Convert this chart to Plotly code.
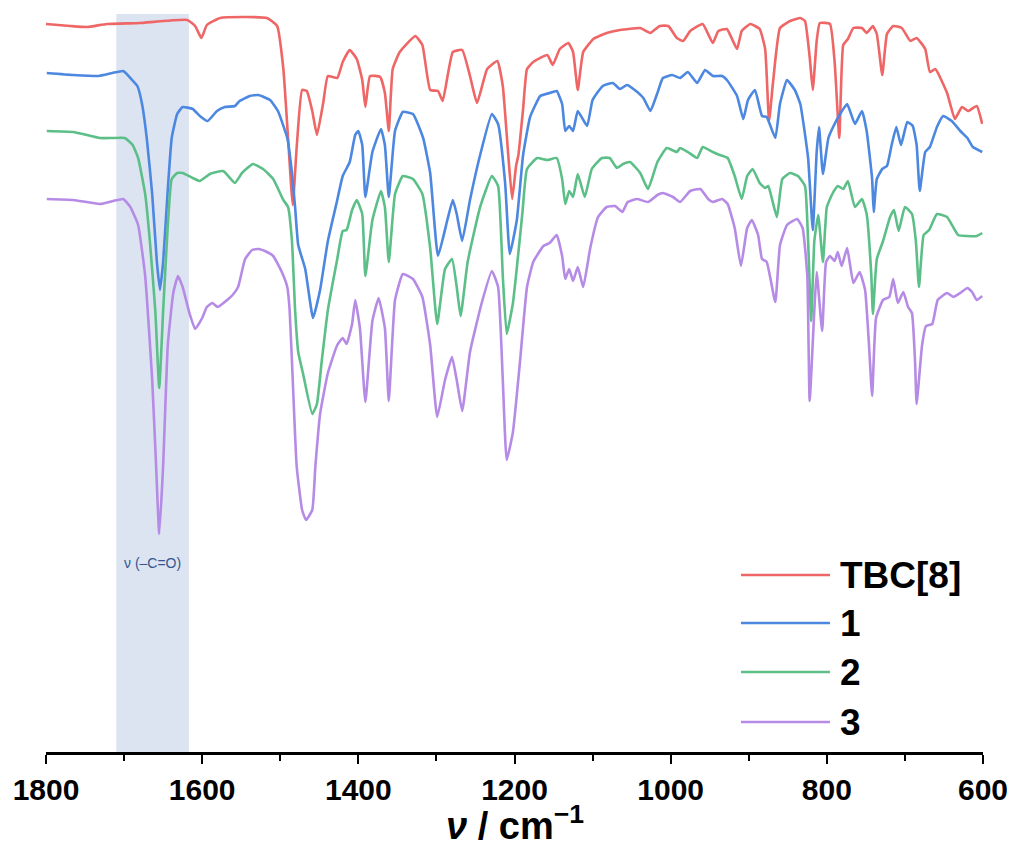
import plotly.graph_objects as go

# wavenumbers (cm-1) and offset transmittance (a.u.)
tbc_w = [1800,1769,1747,1722,1680,1619,1609,1601,1594,1577,1543,1517,1504,1496,1490,1484,1479,1472,1466,1459,1453,1445,1439,1427,1420,1411,1402,1395,1391,1385,1372,1366,1361,1356,1347,1327,1318,1308,1298,1292,1279,1267,1257,1248,1235,1222,1215,1208,1203,1198,1195,1189,1184,1176,1158,1151,1142,1131,1125,1119,1112,1099,1082,1065,1039,1026,1014,1003,992,984,975,959,946,939,928,915,909,898,886,879,874,869,860,847,834,828,822,818,813,809,796,790,784,779,773,766,755,749,741,736,729,723,715,704,693,685,674,668,661,646,636,627,619,608,601]
tbc_t = [728,726,725,728,729,732,726,714,727,734,735,734,726,683,614,547,604,662,661,641,617,649,676,674,690,702,693,672,645,676,675,659,621,683,700,716,707,662,661,651,700,702,676,649,683,691,666,597,553,586,597,643,683,690,697,687,703,709,700,662,700,713,719,722,724,719,726,726,714,711,721,728,709,721,723,703,721,728,723,703,631,669,724,731,734,731,695,662,711,729,728,690,614,707,713,724,724,719,726,718,677,718,726,724,711,714,703,680,683,659,633,645,641,646,628]

c1_w = [1799,1765,1733,1715,1701,1692,1683,1677,1671,1664,1658,1654,1650,1644,1639,1632,1625,1612,1603,1593,1581,1571,1558,1552,1539,1528,1513,1503,1491,1485,1481,1477,1468,1458,1449,1439,1427,1420,1411,1404,1400,1395,1391,1382,1371,1366,1361,1353,1343,1330,1317,1308,1298,1286,1279,1274,1267,1257,1244,1229,1221,1212,1206,1197,1189,1180,1167,1155,1146,1139,1135,1130,1125,1119,1107,1100,1087,1074,1065,1056,1046,1035,1026,1017,1010,998,988,978,966,956,946,934,927,915,907,901,892,883,877,866,860,851,841,834,824,818,813,810,805,798,792,783,774,764,755,749,742,740,736,729,723,717,711,705,697,690,685,681,674,668,659,651,640,629,620,613,601]
c1_t = [679,677,676,679,681,674,666,648,614,558,490,462,490,563,614,638,645,643,636,631,641,645,646,651,656,657,652,641,614,579,545,507,483,434,462,511,552,576,590,617,621,607,555,600,623,607,555,621,640,638,614,579,496,532,552,538,511,552,597,638,628,569,498,532,597,635,656,659,661,648,621,626,621,641,626,652,666,669,663,667,662,654,641,659,674,677,674,680,669,682,676,676,671,656,633,652,662,636,635,614,648,672,662,648,594,522,600,625,578,614,625,638,648,628,641,621,573,540,573,583,586,607,625,607,630,626,607,561,600,605,625,636,631,621,614,605,600]

c2_w = [1799,1765,1731,1715,1699,1689,1682,1673,1667,1660,1655,1650,1644,1639,1632,1625,1612,1603,1590,1573,1558,1549,1535,1522,1509,1496,1490,1485,1481,1477,1471,1459,1453,1447,1439,1427,1420,1415,1408,1402,1395,1391,1382,1371,1366,1361,1353,1343,1330,1318,1308,1299,1289,1280,1274,1269,1260,1244,1229,1221,1215,1210,1202,1190,1184,1171,1158,1146,1139,1135,1130,1125,1119,1110,1101,1088,1078,1069,1061,1052,1039,1029,1017,1005,992,988,978,966,959,946,937,927,918,909,902,895,886,879,875,864,857,847,837,828,824,820,816,811,805,800,793,786,779,773,764,755,749,743,741,736,728,719,714,708,700,691,686,682,676,669,659,646,632,620,608,601]
c2_t = [621,620,614,614,614,607,594,558,511,441,364,441,527,573,579,579,574,571,578,581,569,579,588,583,573,552,545,511,442,400,379,338,348,390,442,493,521,522,542,552,538,476,532,561,545,490,558,576,573,558,504,428,483,493,465,436,490,545,576,566,476,418,449,538,583,594,592,594,573,548,561,555,578,555,583,594,594,584,588,590,579,563,590,604,600,604,600,594,605,600,597,594,576,553,576,583,569,564,566,535,573,579,576,566,511,431,511,537,490,545,558,566,563,571,545,553,538,476,438,493,511,535,542,521,545,538,511,465,517,522,538,535,517,516,516,519]

c3_w = [1799,1765,1731,1714,1701,1692,1682,1673,1664,1659,1655,1650,1644,1637,1631,1625,1616,1609,1600,1594,1587,1580,1568,1561,1554,1545,1536,1528,1517,1509,1498,1491,1488,1484,1479,1472,1467,1459,1455,1449,1439,1427,1420,1415,1408,1404,1398,1391,1382,1374,1366,1361,1353,1343,1330,1318,1308,1299,1289,1280,1274,1267,1257,1242,1229,1221,1215,1210,1202,1193,1184,1176,1163,1155,1146,1139,1135,1130,1125,1119,1112,1103,1093,1082,1071,1062,1055,1043,1029,1017,1010,997,988,975,962,952,946,934,927,918,910,902,896,888,883,877,866,860,851,838,831,825,822,816,813,806,801,796,790,786,781,774,766,758,751,746,742,737,728,720,715,709,702,696,691,687,685,678,673,665,658,646,638,629,620,614,608,601]
c3_t = [553,552,548,551,553,545,527,476,372,286,218,286,407,459,476,465,438,423,434,445,449,445,452,457,465,493,502,503,500,496,480,465,442,372,286,242,232,242,286,338,379,407,414,408,428,452,424,350,431,454,424,351,452,478,473,455,407,335,372,395,372,341,400,449,481,465,372,292,320,390,465,490,506,509,517,496,473,483,471,485,465,504,535,545,546,540,550,553,550,557,559,555,550,561,563,553,550,553,548,524,486,524,532,517,493,490,450,507,527,533,524,476,351,442,480,421,490,496,491,500,486,504,469,480,462,407,356,434,452,455,473,449,460,445,439,390,348,407,426,428,452,459,455,459,464,460,452,456]

names = ["TBC[8]", "1", "2", "3"]
colors = ["#EE6666", "#4C87E0", "#5CBF88", "#B68BE6"]
series_w = [tbc_w, c1_w, c2_w, c3_w]
series_t = [tbc_t, c1_t, c2_t, c3_t]

band_lo, band_hi = 1617, 1710
band_label = "ν (–C=O)"
band_label_pos = (1664, 189)
x_ticks = [1800, 1600, 1400, 1200, 1000, 800, 600]
x_title = "<b><i>ν</i> / cm<sup>−1</sup></b>"

fig = go.Figure()
for w, t, n, c in zip(series_w, series_t, names, colors):
    fig.add_trace(go.Scatter(x=w, y=t, mode="lines", name=n,
                             line=dict(color=c, width=2.6, shape="spline", smoothing=0.4),
                             showlegend=False))

fig.add_shape(type="rect", xref="x", yref="y", x0=band_hi, x1=band_lo, y0=0, y1=738,
              fillcolor="#DCE4F2", line=dict(width=0), layer="below")
fig.add_annotation(x=band_label_pos[0], y=band_label_pos[1], text=band_label, showarrow=False,
                   font=dict(family="Arial", size=14, color="#34558F"))

# legend drawn as line segments + labels
leg_y = [177, 129, 80, 30]
for n, c, ly in zip(names, colors, leg_y):
    fig.add_shape(type="line", xref="paper", yref="y", x0=0.7417, x1=0.8367, y0=ly, y1=ly,
                  line=dict(color=c, width=2.6))
    fig.add_annotation(xref="paper", yref="y", x=0.8452, y=ly, text="<b>%s</b>" % n,
                       showarrow=False, xanchor="left", yanchor="middle",
                       font=dict(family="Arial", size=37, color="black"))

# axis title placed as annotation below the tick labels
fig.add_annotation(xref="paper", yref="paper", x=0.5, y=-0.094, text=x_title, showarrow=False,
                   xanchor="center", yanchor="middle",
                   font=dict(family="Arial", size=38, color="black"))

fig.update_layout(
    width=1012, height=865,
    margin=dict(l=46, r=29, t=0, b=113),
    plot_bgcolor="white", paper_bgcolor="white",
    showlegend=False,
)
fig.update_xaxes(range=[1800, 600], tickvals=x_ticks, ticktext=["<b>%d</b>" % v for v in x_ticks],
                 showgrid=False, zeroline=False, showline=True, linecolor="black", linewidth=2.5,
                 ticks="outside", ticklen=9, tickwidth=2.2, tickcolor="black",
                 minor=dict(dtick=100, ticks="outside", ticklen=6, tickwidth=2, tickcolor="black", showgrid=False),
                 tickfont=dict(family="Arial", size=30, color="black"))
fig.update_yaxes(range=[0, 752], visible=False)

fig.write_html("out.html")
